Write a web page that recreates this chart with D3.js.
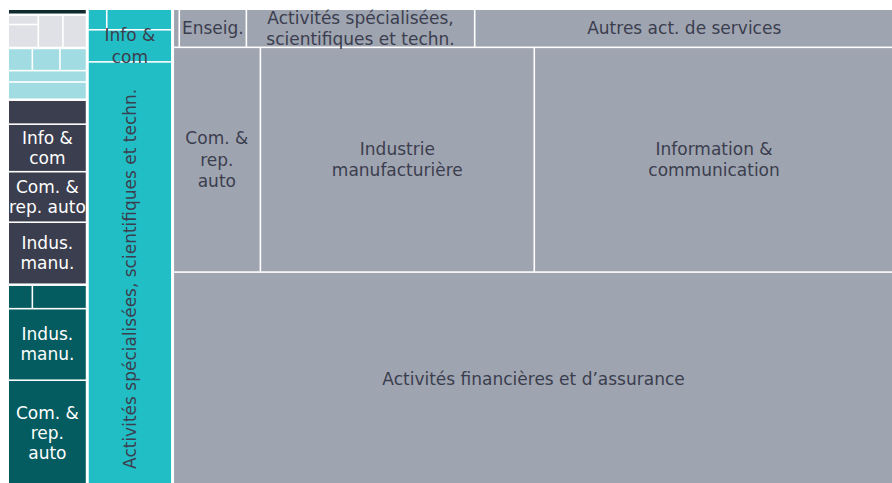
<!DOCTYPE html>
<html>
<head>
<meta charset="utf-8">
<script src="https://cdn.jsdelivr.net/npm/d3@7"></script>
<style>
  html, body { margin: 0; padding: 0; background: #fff; }
  svg { display: block; font-family: "DejaVu Sans", sans-serif; }
</style>
</head>
<body>
<svg id="chart" width="892" height="483"></svg>
<script>
// couleurs des groupes
const colors = {
  sombre: "#0f2a2d",
  grisClair: "#e0e1e6",
  cyanClair: "#a1dce2",
  marine: "#3b3e4e",
  sarcelle: "#045b60",
  cyan: "#22bec6",
  gris: "#9fa4b1"
};
const textColors = { dark: "#3b3e4e", light: "#ffffff" };

// chaque groupe = lignes empilées, chaque ligne = cellules côte à côte
const sombreRows = [
  [{ value: 477 }]
];
const grisClairRows = [
  [{ stack: [{ value: 290 }, { value: 717 }] }, { value: 825 }, { value: 792 }]
];
const cyanClairRows = [
  [{ value: 551 }, { value: 630 }, { value: 608 }],
  [{ value: 914 }],
  [{ value: 1391 }]
];
const marineRows = [
  [{ value: 1908 }],
  [{ label: "Info &\ncom", value: 3776 }],
  [{ label: "Com. &\nrep. auto", value: 4015 }],
  [{ label: "Indus.\nmanu.", value: 4929 }]
];
const sarcelleRows = [
  [{ value: 576 }, { value: 1293 }],
  [{ label: "Indus.\nmanu.", value: 5684 }],
  [{ label: "Com. &\nrep.\nauto", value: 8387 }]
];
const cyanRows = [
  [{ value: 390 }, { value: 1353 }],
  [{ label: "Info &\ncom", value: 2720 }],
  [{ label: "Activités spécialisées, scientifiques et techn.", value: 35913 }]
];
const grisRows = [
  [{ value: 228 }, { label: "Enseig.", value: 2546 },
   { label: "Activités spécialisées,\nscientifiques et techn.", value: 8664 },
   { label: "Autres act. de services", value: 15903 }],
  [{ label: "Com. &\nrep.\nauto", value: 19488 },
   { label: "Industrie\nmanufacturière", value: 61264 },
   { label: "Information &\ncommunication", value: 80416 }],
  [{ label: "Activités financières et d’assurance", value: 153254 }]
];

const columns = [
  [["sombre", sombreRows, "light"], ["grisClair", grisClairRows, "dark"],
   ["cyanClair", cyanClairRows, "dark"], ["marine", marineRows, "light"],
   ["sarcelle", sarcelleRows, "light"]],
  [["cyan", cyanRows, "dark"]],
  [["gris", grisRows, "dark"]]
];

const offsetX = 9, offsetY = 10, width = 884, height = 475;

function cellNode(c) {
  if (c.stack) return { children: c.stack.map(cellNode) };
  return { label: c.label || "", value: c.value };
}

const data = {
  children: columns.map((col, ci) => ({
    children: col.map(([key, rows, tc]) => ({
      key, col: ci, color: colors[key], textColor: textColors[tc],
      children: rows.map(row => ({ children: row.map(cellNode) }))
    }))
  }))
};

const root = d3.hierarchy(data).sum(d => d.children ? 0 : d.value);

const tilers = [d3.treemapDice, d3.treemapSlice, d3.treemapSlice, d3.treemapDice, d3.treemapSlice];

d3.treemap()
  .size([width, height])
  .tile((node, x0, y0, x1, y1) => tilers[node.depth](node, x0, y0, x1, y1))
  .paddingInner(node => node.depth === 0 ? 3 : node.depth === 1 ? 2.5 : 1.6)
  (root);

const svg = d3.select("#chart");
const g = svg.append("g").attr("transform", `translate(${offsetX},${offsetY})`);

const leaves = root.leaves();
const groupOf = d => d.ancestors().find(a => a.depth === 2).data;

g.selectAll("rect")
  .data(leaves)
  .join("rect")
  .attr("x", d => d.x0)
  .attr("y", d => d.y0)
  .attr("width", d => Math.max(0, d.x1 - d.x0))
  .attr("height", d => Math.max(0, d.y1 - d.y0))
  .attr("fill", d => groupOf(d).color);

leaves.filter(d => d.data.label).forEach(d => {
  const grp = groupOf(d);
  const lineHeight = grp.col === 0 ? 20 : 21.5;
  const cx = (d.x0 + d.x1) / 2, cy = (d.y0 + d.y1) / 2;
  const w = d.x1 - d.x0, h = d.y1 - d.y0;
  const lines = d.data.label.split("\n");
  const rotate = h > 3 * w && lines.length === 1;
  const t = g.append("text")
    .attr("transform", `translate(${cx},${cy + (rotate ? 5 : 0)})` + (rotate ? " rotate(-90)" : ""))
    .attr("text-anchor", "middle")
    .attr("font-size", 17)
    .attr("fill", grp.textColor);
  lines.forEach((line, i) => {
    t.append("tspan")
      .attr("x", 0)
      .attr("y", (i - (lines.length - 1) / 2) * lineHeight)
      .attr("dominant-baseline", "central")
      .text(line);
  });
});
</script>
</body>
</html>
